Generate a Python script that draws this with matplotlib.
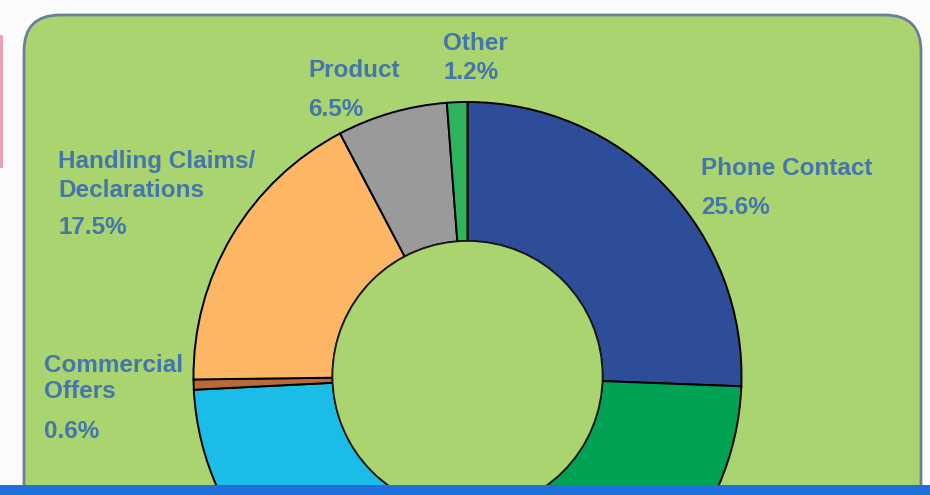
import matplotlib.pyplot as plt
from matplotlib.patches import FancyBboxPatch, Rectangle

# slices, clockwise from 12 o'clock
labels = ["Phone Contact", "Segment (hidden)", "Segment (hidden) 2",
          "Commercial Offers", "Handling Claims/ Declarations", "Product", "Other"]
shares = [25.6, 24.0, 24.6, 0.6, 17.5, 6.5, 1.2]
colors = ["#2E4D98", "#00A354", "#1CBCE8", "#B86A3A", "#FDB664", "#9A9A9A", "#2DB45C"]

# visible label texts (pixel position of first line, line texts, baselines)
label_lines = [
    ["Phone Contact", "25.6%"],
    ["Handling Claims/", "Declarations", "17.5%"],
    ["Commercial", "Offers", "0.6%"],
    ["Product", "6.5%"],
    ["Other", "1.2%"],
]
label_x = [701, 58, 44, 308, 443]
label_baselines = [
    [175, 214],
    [168, 197, 234],
    [372, 398, 438],
    [77, 116],
    [50, 79],
]

W, H = 930, 495
panel_col = "#A9D46F"
text_col = "#4475AD"

fig = plt.figure(figsize=(W / 100, H / 100), dpi=100)
fig.patch.set_facecolor("#FBFBFB")
ax = fig.add_axes([0, 0, 1, 1])
ax.set_facecolor("#FBFBFB")

# rounded green panel
panel = FancyBboxPatch((24, -40), 897, H - 15 + 40,
                       boxstyle="round,pad=0,rounding_size=36",
                       facecolor=panel_col, edgecolor="#6D7E98", linewidth=2, zorder=1)
ax.add_patch(panel)

# pink edge of a neighbouring box on the far left
ax.add_patch(Rectangle((0, H - 168), 3, 133, facecolor="#E9A3B3", edgecolor="none", zorder=1))

# donut
cx, cy = 467.5, H - 376
R, r = 274, 135
wedges, _ = ax.pie(shares, colors=colors, startangle=90, counterclock=False,
                   radius=R, center=(cx, cy),
                   wedgeprops=dict(width=R - r, edgecolor="black", linewidth=1.4))
for w in wedges:
    w.set_zorder(2)
hole = plt.Circle((cx, cy), r, facecolor=panel_col, edgecolor="#1a1a1a", linewidth=1.2, zorder=3)
ax.add_patch(hole)

# labels
for lines, x, bls in zip(label_lines, label_x, label_baselines):
    for txt, b in zip(lines, bls):
        ax.text(x, H - b, txt, color=text_col, fontsize=17.5, fontweight="bold",
                family="Liberation Sans", ha="left", va="baseline", zorder=4)

# blue strip along the bottom
ax.add_patch(Rectangle((0, 0), W, 10, facecolor="#2070DC", edgecolor="none", zorder=5))

ax.set_xlim(0, W)
ax.set_ylim(0, H)
ax.set_aspect("equal")
ax.axis("off")

fig.savefig("out.png", dpi=100, facecolor=fig.get_facecolor())
